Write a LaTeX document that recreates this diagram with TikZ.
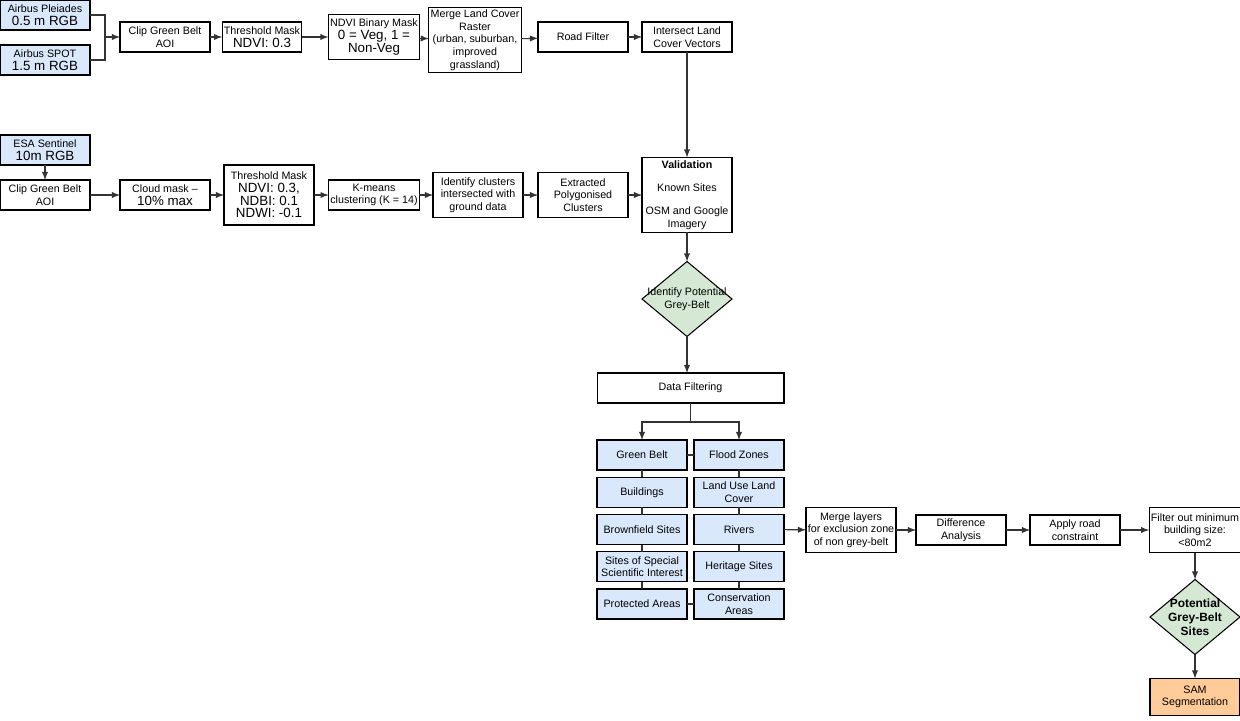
\documentclass[tikz,border=0pt]{standalone}
\usepackage{fontspec}
\setmainfont{Liberation Sans}
\usetikzlibrary{shapes.geometric}
\definecolor{boxblue}{HTML}{DAE8FC}
\definecolor{boxgreen}{HTML}{D5E8D4}
\definecolor{boxorange}{HTML}{FFCC99}
\newcommand{\bigtxt}[1]{{\fontsize{7.6}{8.6}\selectfont #1}}
\begin{document}
\begin{tikzpicture}[x=0.02cm, y=-0.02cm]
\tikzset{ >=latex, inner sep=1pt, outer sep=0pt,
  box/.style={draw, line width=0.6pt, fill=white, minimum width=1.8cm, minimum height=0.6cm, align=center, font=\fontsize{6.1}{7.2}\selectfont},
  data/.style={box, fill=boxblue},
  decision/.style={draw, line width=0.6pt, diamond, aspect=1.2, fill=boxgreen, minimum width=1.8cm, minimum height=1.5cm, inner sep=-6pt, align=center, font=\fontsize{6.1}{7.2}\selectfont},
  link/.style={line width=0.6pt, black!80},
}
\useasboundingbox (0,0) rectangle (1240,720);

%\draw [lightgray, dashed](0,0) grid[step=50] (1240,720);

% high resolution branch
\node [data] (PLE) at (45,15) {Airbus Pleiades\\\bigtxt{0.5 m RGB}};
\node [data] (SPOT) at (45,60) {Airbus SPOT\\\bigtxt{1.5 m RGB}};
\node [box] (CLIPA) at (165,37) {Clip Green Belt\\AOI};
\node [box, minimum width=1.5cm] (THRA) at (262,37) {Threshold Mask\\\bigtxt{NDVI: 0.3}};
\node [box, minimum height=0.9cm] (NDVI) at (374,37) {NDVI Binary Mask\\\bigtxt{0 = Veg, 1 =}\\\bigtxt{Non-Veg}};
\node [box, minimum height=1.3cm] (MERGE) at (475,40) {Merge Land Cover\\Raster\\(urban, suburban,\\improved\\grassland)};
\node [box] (ROAD) at (583,37) {Road Filter};
\node [box] (ISECT) at (687,37) {Intersect Land\\Cover Vectors};
\coordinate (J) at (105,37);

% sentinel branch
\node [data] (ESA) at (45,150) {ESA Sentinel\\\bigtxt{10m RGB}};
\node [box] (CLIPB) at (45,195) {Clip Green Belt\\AOI};
\node [box] (CLOUD) at (165,195) {Cloud mask --\\\bigtxt{10\% max}};
\node [box, minimum height=1.2cm] (THRB) at (269,195) {Threshold Mask\\\bigtxt{NDVI: 0.3,}\\\bigtxt{NDBI: 0.1}\\\bigtxt{NDWI: -0.1}};
\node [box] (KMEANS) at (374,195) {K-means\\clustering (K = 14)};
\node [box, minimum height=0.9cm] (IDENT) at (478,195) {Identify clusters\\intersected with\\ground data};
\node [box, minimum height=0.9cm] (EXTR) at (583,195) {Extracted\\Polygonised\\Clusters};
\node [box, minimum height=1.5cm] (VALID) at (687,195) {\textbf{Validation}\\[6pt]Known Sites\\[6pt]OSM and Google\\Imagery};
\node [decision] (GREY) at (687,299) {Identify Potential\\Grey-Belt};

% filtering layers
\node [box, minimum width=3.74cm] (FILT) at (690.5,388) {Data Filtering};
\coordinate (SPLIT) at (690.5,422);
\foreach \name/\txt [count=\i] in {GB/Green Belt, BLD/Buildings, BRF/Brownfield Sites, SSSI/Sites of Special\\Scientific Interest, PROT/Protected Areas}
  \node [data] (\name) at (642,455+37.25*\i-37.25) {\txt};
\foreach \name/\txt [count=\i] in {FLD/Flood Zones, LULC/Land Use Land\\Cover, RIV/Rivers, HER/Heritage Sites, CONS/Conservation\\Areas}
  \node [data] (\name) at (739,455+37.25*\i-37.25) {\txt};

% exclusion chain
\node [box, minimum height=0.9cm] (EXCL) at (851,530) {Merge layers\\for exclusion zone\\of non grey-belt};
\node [box] (DIFF) at (961,530) {Difference\\Analysis};
\node [box] (APPLY) at (1075,530) {Apply road\\constraint};
\node [box, minimum height=0.9cm] (MINB) at (1195,530) {Filter out minimum\\building size:\\<80m2};
\node [decision, font=\bfseries\fontsize{6.8}{8}\selectfont] (SITES) at (1195,617) {Potential\\Grey-Belt\\Sites};
\node [box, fill=boxorange, minimum height=0.74cm] (SAM) at (1195,697) {SAM\\Segmentation};

% arrows
\draw [link] (PLE.east) -| (J);
\draw [link] (SPOT.east) -| (J);
\draw [->, link] (J) -- (CLIPA);
\draw [->, link] (CLIPA) -- (THRA);
\draw [->, link] (THRA) -- (NDVI);
\draw [->, link] (NDVI) -- (MERGE);
\draw [->, link] (MERGE) -- (ROAD);
\draw [->, link] (ROAD) -- (ISECT);
\draw [->, link] (ISECT) -- (VALID);

\draw [->, link] (ESA) -- (CLIPB);
\draw [->, link] (CLIPB) -- (CLOUD);
\draw [->, link] (CLOUD) -- (THRB);
\draw [->, link] (THRB) -- (KMEANS);
\draw [->, link] (KMEANS) -- (IDENT);
\draw [->, link] (IDENT) -- (EXTR);
\draw [->, link] (EXTR) -- (VALID);
\draw [->, link] (VALID) -- (GREY);
\draw [->, link] (GREY) -- (GREY |- FILT.north);

\draw [link] (FILT) -- (SPLIT);
\draw [->, link] (SPLIT) -| (GB);
\draw [->, link] (SPLIT) -| (FLD);

\draw [link] (GB) -- (FLD);
\draw [link] (PROT) -- (CONS);
\draw [link] (GB) -- (BLD) -- (BRF) -- (SSSI) -- (PROT);
\draw [link] (FLD) -- (LULC) -- (RIV) -- (HER) -- (CONS);

\draw [->, link] (RIV) -- (EXCL);
\draw [->, link] (EXCL) -- (DIFF);
\draw [->, link] (DIFF) -- (APPLY);
\draw [->, link] (APPLY) -- (MINB);
\draw [->, link] (MINB) -- (SITES);
\draw [->, link] (SITES) -- (SAM);
\end{tikzpicture}
\end{document}
